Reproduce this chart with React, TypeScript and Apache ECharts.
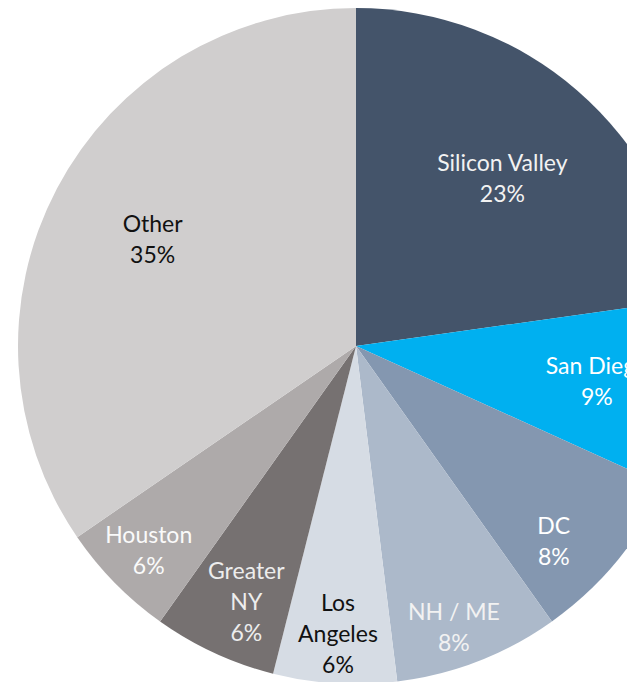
import React, { useEffect, useRef } from "react";
import * as echarts from "echarts";

// Data (share of total, %)
const categories = ["Silicon Valley", "San Diego", "DC", "NH / ME", "Los Angeles", "Greater NY", "Houston", "Other"];
const labelNames = ["Silicon Valley", "San Diego", "DC", "NH / ME", "Los\nAngeles", "Greater\nNY", "Houston", "Other"];
const values = [22.8, 9.0, 8.4, 7.9, 5.9, 5.9, 5.6, 34.6];

// Styles
const colors = ["#44546A", "#00B0F0", "#8497B0", "#ACB9CA", "#D6DCE4", "#767171", "#AEAAAA", "#D0CECE"];
const textColors = ["#F2F2F2", "#FFFFFF", "#FFFFFF", "#F2F2F2", "#111111", "#EDEDED", "#FAFAFA", "#111111"];
const labelRadiusRatio = [0.66, 0.72, 0.82, 0.88, 0.85, 0.82, 0.86, 0.68];
const labelAngleOffsetDeg = [0, 0, 5, 2, 0, -1.5, 0, 0];

const CX = 356;
const CY = 346;
const R = 338;

export default function App() {
  const ref = useRef<HTMLDivElement>(null);

  useEffect(() => {
    document.body.style.margin = "0";
    if (!ref.current) return;
    const chart = echarts.init(ref.current, null, { renderer: "svg" });
    const total = values.reduce((a, b) => a + b, 0);
    const cum: number[] = [];
    let acc = 0;
    for (const v of values) {
      cum.push(acc);
      acc += v;
    }
    chart.setOption({
      animation: false,
      backgroundColor: "#FFFFFF",
      series: [
        {
          type: "pie",
          center: [CX, CY],
          radius: [0, R],
          startAngle: 90,
          clockwise: true,
          avoidLabelOverlap: false,
          itemStyle: { borderWidth: 0 },
          label: {
            show: true,
            position: "inside",
            fontFamily: "Lato, 'Noto Sans', sans-serif",
            fontSize: 23,
            lineHeight: 31,
            align: "center",
            formatter: (p: any) => `${labelNames[p.dataIndex]}\n${Math.round(p.percent)}%`,
          },
          labelLine: { show: false },
          labelLayout: (p: any) => {
            const i = p.dataIndex;
            const mid =
              ((cum[i] + values[i] / 2) / total) * Math.PI * 2 +
              (labelAngleOffsetDeg[i] * Math.PI) / 180;
            const rr = R * labelRadiusRatio[i];
            return {
              x: CX + rr * Math.sin(mid),
              y: CY - rr * Math.cos(mid),
              align: "center",
              verticalAlign: "middle",
            };
          },
          data: categories.map((name, i) => ({
            name,
            value: values[i],
            itemStyle: { color: colors[i] },
            label: { color: textColors[i] },
          })),
        },
      ],
    });
    return () => chart.dispose();
  }, []);

  return (
    <div
      ref={ref}
      style={{ position: "absolute", left: 0, top: 0, width: 627, height: 682 }}
    />
  );
}
